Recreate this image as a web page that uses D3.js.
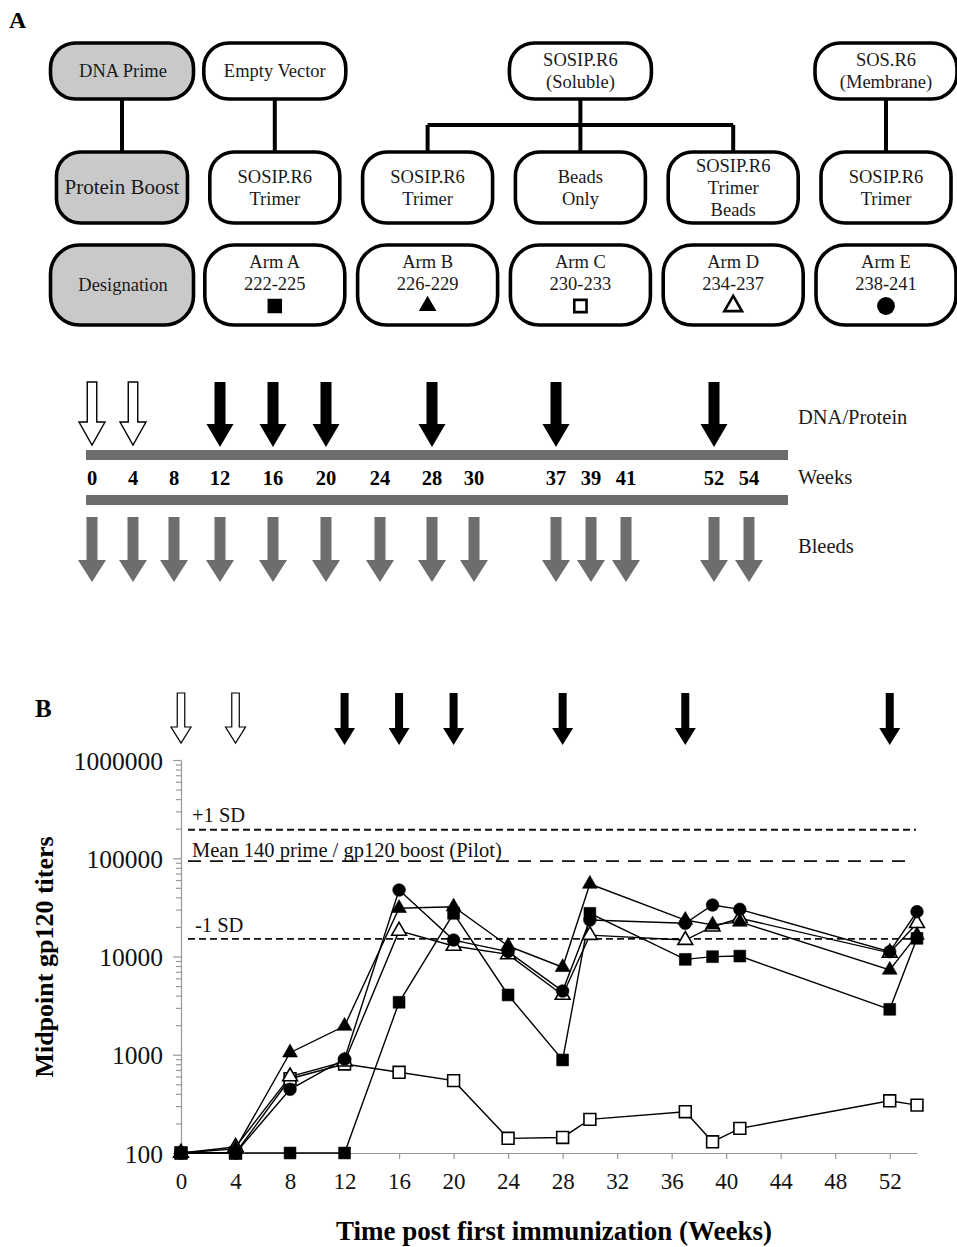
<!DOCTYPE html>
<html><head><meta charset="utf-8">
<script src="https://cdn.jsdelivr.net/npm/d3@7"></script>
<style>body{margin:0;background:#fff}svg{display:block}</style>
</head><body><svg id="c" width="957" height="1247"></svg>
<script>
// ================= DATA =================
const rowLabels = ["DNA Prime", "Protein Boost", "Designation"];
const primeLabels = [["Empty Vector"], ["SOSIP.R6", "(Soluble)"], ["SOS.R6", "(Membrane)"]];
const primeColumns = ["A", "C", "E"];
const boostLabels = [["SOSIP.R6", "Trimer"], ["SOSIP.R6", "Trimer"], ["Beads", "Only"], ["SOSIP.R6", "Trimer", "Beads"], ["SOSIP.R6", "Trimer"]];
const boostParent = [0, 1, 1, 1, 2];
const armKeys = ["A", "B", "C", "D", "E"];
const armNames = ["Arm A", "Arm B", "Arm C", "Arm D", "Arm E"];
const armIds = ["222-225", "226-229", "230-233", "234-237", "238-241"];
const armSymbols = ["square", "triangle", "square", "triangle", "circle"];
const armFilled = [true, true, false, false, true];

const timelineWeeks = [0, 4, 8, 12, 16, 20, 24, 28, 30, 37, 39, 41, 52, 54];
const dnaWeeks = [0, 4];
const proteinWeeks = [12, 16, 20, 28, 37, 52];
const bleedWeeks = [0, 4, 8, 12, 16, 20, 24, 28, 30, 37, 39, 41, 52, 54];

const sampleWeeks = [0, 4, 8, 12, 16, 20, 24, 28, 30, 37, 39, 41, 52, 54];
const armA = [100, 100, 100, 100, 3420, 27500, 4060, 885, 27500, 9350, 9960, 10100, 2900, 15300];
const armB = [100, 110, 1050, 1960, 31000, 32100, 12800, 7770, 54700, 23500, 21000, 22500, 7300, 16500];
const armC = [100, 100, 570, 805, 663, 545, 141, 144, 220, 263, 130, 178, 340, 307];
const armD = [100, 115, 600, 850, 18200, 12800, 10500, 4060, 16500, 14700, 20100, 24500, 10900, 21800];
const armE = [100, 100, 445, 905, 47500, 14700, 11200, 4450, 23500, 21800, 33400, 30200, 11200, 28600];
const refValues = [195000, 93500, 15100];
const refLabels = ["+1 SD", "Mean 140 prime / gp120 boost (Pilot)", "-1 SD"];
const yTickValues = [100, 1000, 10000, 100000, 1000000];
const xTickValues = [0, 4, 8, 12, 16, 20, 24, 28, 32, 36, 40, 44, 48, 52];
const yTitle = "Midpoint gp120 titers";
const xTitle = "Time post first immunization (Weeks)";

// ================= DRAW =================
const svg = d3.select("#c");
const FONT = "'Liberation Serif','Times New Roman',serif";
const GRAY = "#6d6d6d";

function arrowPath(cx, y0, y1, shaftW, headW, headH) {
  const hs = shaftW / 2, hh = headW / 2, yh = y1 - headH;
  return `M${cx - hs},${y0}L${cx + hs},${y0}L${cx + hs},${yh}L${cx + hh},${yh}L${cx},${y1}L${cx - hh},${yh}L${cx - hs},${yh}Z`;
}
function symType(s) {
  return s === "square" ? d3.symbolSquare : s === "triangle" ? d3.symbolTriangle : d3.symbolCircle;
}

// ---------- Panel A ----------
svg.append("text").attr("x", 9).attr("y", 28).attr("font-family", FONT)
  .attr("font-weight", "bold").attr("font-size", 24).text("A");

const col = d3.scalePoint().domain(["L", ...armKeys]).range([122, 886]);
const rows = [
  { top: 43, h: 56, rx: 25, wL: 143, wA: 142 },
  { top: 152, h: 71, rx: 24, wL: 131, wA: 130 },
  { top: 245, h: 80, rx: 29, wL: 143, wA: 140 }
];
const gA = svg.append("g");

// connectors
const conn = gA.append("g").attr("stroke", "#000").attr("stroke-width", 4).attr("fill", "none");
conn.append("line").attr("x1", col("L")).attr("x2", col("L")).attr("y1", rows[0].top + rows[0].h).attr("y2", rows[1].top);
primeColumns.forEach((pc, pi) => {
  const kids = armKeys.filter((k, i) => boostParent[i] === pi);
  const px = col(pc);
  if (kids.length === 1) {
    conn.append("line").attr("x1", col(kids[0])).attr("x2", col(kids[0]))
      .attr("y1", rows[0].top + rows[0].h).attr("y2", rows[1].top);
  } else {
    const ym = 125;
    conn.append("line").attr("x1", px).attr("x2", px).attr("y1", rows[0].top + rows[0].h).attr("y2", ym);
    conn.append("line").attr("x1", col(kids[0])).attr("x2", col(kids[kids.length - 1])).attr("y1", ym).attr("y2", ym);
    kids.forEach(k => conn.append("line").attr("x1", col(k)).attr("x2", col(k)).attr("y1", ym).attr("y2", rows[1].top));
  }
});

function box(cx, r, w, fill) {
  gA.append("rect").attr("x", cx - w / 2).attr("y", r.top).attr("width", w).attr("height", r.h)
    .attr("rx", r.rx).attr("ry", r.rx).attr("fill", fill).attr("stroke", "#000").attr("stroke-width", 3.6);
}
function lines(cx, cy, arr, size) {
  const n = arr.length;
  arr.forEach((t, i) => {
    gA.append("text").attr("x", cx).attr("y", cy + 6 + (i - (n - 1) / 2) * 22)
      .attr("text-anchor", "middle").attr("font-family", FONT).attr("font-size", size)
      .attr("fill", "#1a1a1a").text(t);
  });
}
// gray row labels
rowLabels.forEach((t, i) => {
  const r = rows[i];
  box(col("L"), r, r.wL, "#c9c9c9");
  lines(col("L") + (i === 1 ? 0 : 1), r.top + r.h / 2, [t], i === 1 ? 21 : 18.5);
});
// primes
primeLabels.forEach((arr, i) => {
  const r = rows[0];
  box(col(primeColumns[i]), r, r.wA, "#fff");
  lines(col(primeColumns[i]), r.top + r.h / 2, arr, 18.5);
});
// boosts
boostLabels.forEach((arr, i) => {
  const r = rows[1];
  box(col(armKeys[i]), r, r.wA, "#fff");
  lines(col(armKeys[i]), r.top + r.h / 2, arr, 18.5);
});
// designations
armKeys.forEach((k, i) => {
  const r = rows[2];
  const cx = col(k);
  box(cx, r, r.wA, "#fff");
  gA.append("text").attr("x", cx).attr("y", r.top + 23).attr("text-anchor", "middle")
    .attr("font-family", FONT).attr("font-size", 18.5).attr("fill", "#1a1a1a").text(armNames[i]);
  gA.append("text").attr("x", cx).attr("y", r.top + 45).attr("text-anchor", "middle")
    .attr("font-family", FONT).attr("font-size", 18.5).attr("fill", "#1a1a1a").text(armIds[i]);
  const sz = armSymbols[i] === "square" ? (armFilled[i] ? 210 : 150) : armSymbols[i] === "triangle" ? 135 : 250;
  gA.append("path").attr("d", d3.symbol().type(symType(armSymbols[i])).size(sz)())
    .attr("transform", `translate(${cx},${r.top + 61})`)
    .attr("fill", armFilled[i] ? "#000" : "#fff").attr("stroke", "#000")
    .attr("stroke-width", armFilled[i] ? 0 : 2.6);
});

// ---------- Timeline ----------
const tScale = d3.scaleLinear().domain(timelineWeeks)
  .range([92, 133, 174, 220, 273, 326, 380, 432, 474, 556, 591, 626, 714, 749]);
const gT = svg.append("g");
gT.append("rect").attr("x", 86).attr("y", 450).attr("width", 702).attr("height", 10).attr("fill", GRAY);
gT.append("rect").attr("x", 86).attr("y", 495).attr("width", 702).attr("height", 10).attr("fill", GRAY);
gT.selectAll("path.dna").data(dnaWeeks).join("path").attr("class", "dna")
  .attr("d", w => arrowPath(tScale(w), 382, 445, 9.5, 26, 23))
  .attr("fill", "#fff").attr("stroke", "#000").attr("stroke-width", 1.4);
gT.selectAll("path.prot").data(proteinWeeks).join("path").attr("class", "prot")
  .attr("d", w => arrowPath(tScale(w), 382, 447, 11, 27, 23)).attr("fill", "#000");
gT.selectAll("path.bleed").data(bleedWeeks).join("path").attr("class", "bleed")
  .attr("d", w => arrowPath(tScale(w), 517, 582, 11, 28, 22)).attr("fill", GRAY);
gT.selectAll("text.wk").data(timelineWeeks).join("text").attr("class", "wk")
  .attr("x", w => tScale(w)).attr("y", 485).attr("text-anchor", "middle")
  .attr("font-family", FONT).attr("font-weight", "bold").attr("font-size", 20.5).text(w => w);
[["DNA/Protein", 424], ["Weeks", 484], ["Bleeds", 553]].forEach(([t, yy]) => {
  gT.append("text").attr("x", 798).attr("y", yy).attr("font-family", FONT).attr("font-size", 20.5)
    .attr("fill", "#1a1a1a").text(t);
});

// ---------- Panel B ----------
svg.append("text").attr("x", 35).attr("y", 717).attr("font-family", FONT)
  .attr("font-weight", "bold").attr("font-size", 25).text("B");

const x = d3.scaleLinear().domain([0, 54]).range([181, 917]);
const y = d3.scaleLog().domain([100, 1e6]).range([1153, 760]);
const gB = svg.append("g");

// top arrows
gB.selectAll("path.dnaB").data(dnaWeeks).join("path").attr("class", "dnaB")
  .attr("d", w => arrowPath(x(w), 693, 743, 7.5, 20, 16))
  .attr("fill", "#fff").attr("stroke", "#000").attr("stroke-width", 1.2);
gB.selectAll("path.protB").data(proteinWeeks).join("path").attr("class", "protB")
  .attr("d", w => arrowPath(x(w), 693, 745, 8, 21, 17)).attr("fill", "#000");

// axes
const yMinor = y.ticks().filter(v => !yTickValues.includes(v));
const yMinorAxis = gB.append("g").attr("transform", "translate(181,0)")
  .call(d3.axisLeft(y).tickValues(yMinor).tickSize(5).tickFormat(""));
const yAxis = gB.append("g").attr("transform", "translate(181,0)")
  .call(d3.axisLeft(y).tickValues(yTickValues).tickSize(8).tickSizeOuter(0).tickFormat(d3.format("d")).tickPadding(10));
const xAxis = gB.append("g").attr("transform", "translate(0,1153)")
  .call(d3.axisBottom(x).tickValues(xTickValues).tickSize(6).tickSizeOuter(0).tickPadding(14));
[yMinorAxis, yAxis, xAxis].forEach(a => {
  a.selectAll("path,line").attr("stroke", "#999").attr("stroke-width", 1.2);
  a.selectAll("text").attr("font-family", FONT).attr("fill", "#111");
});
yMinorAxis.select(".domain").remove();
yAxis.selectAll("text").attr("font-size", 25.5).attr("dy", "0.36em");
xAxis.selectAll("text").attr("font-size", 23);

svg.append("text").attr("transform", "translate(53,957) rotate(-90)").attr("text-anchor", "middle")
  .attr("font-family", FONT).attr("font-weight", "bold").attr("font-size", 26).text(yTitle);
svg.append("text").attr("x", 554).attr("y", 1240).attr("text-anchor", "middle")
  .attr("font-family", FONT).attr("font-weight", "bold").attr("font-size", 27).text(xTitle);

// reference lines
const refDash = ["7,4", "13,9", "7,4"];
const refX2 = [916, 912, 916];
refValues.forEach((v, i) => {
  gB.append("line").attr("x1", 188).attr("x2", refX2[i]).attr("y1", y(v)).attr("y2", y(v))
    .attr("stroke", "#111").attr("stroke-width", 1.8).attr("stroke-dasharray", refDash[i]);
});
const refLabelY = [822, 857, 932];
const refLabelX = [192, 192, 195];
refLabels.forEach((t, i) => {
  gB.append("text").attr("x", refLabelX[i]).attr("y", refLabelY[i]).attr("font-family", FONT)
    .attr("font-size", 20.5).attr("fill", "#111").text(t);
});

// series
const series = [
  { vals: armC, sym: "square", filled: false },
  { vals: armD, sym: "triangle", filled: false },
  { vals: armB, sym: "triangle", filled: true },
  { vals: armA, sym: "square", filled: true },
  { vals: armE, sym: "circle", filled: true }
];
const line = d3.line().x(d => x(d[0])).y(d => y(d[1]));
series.forEach(s => {
  gB.append("path").attr("d", line(sampleWeeks.map((w, i) => [w, s.vals[i]])))
    .attr("fill", "none").attr("stroke", "#000").attr("stroke-width", 1.4);
});
series.forEach(s => {
  const size = s.sym === "square" ? 140 : s.sym === "triangle" ? 95 : 125;
  gB.append("g").selectAll("path").data(sampleWeeks.map((w, i) => [w, s.vals[i]])).join("path")
    .attr("d", d3.symbol().type(symType(s.sym)).size(size)())
    .attr("transform", d => `translate(${x(d[0])},${y(d[1])})`)
    .attr("fill", s.filled ? "#000" : "#fff").attr("stroke", "#000").attr("stroke-width", s.filled ? 0.6 : 1.6);
});
</script>
</body></html>
